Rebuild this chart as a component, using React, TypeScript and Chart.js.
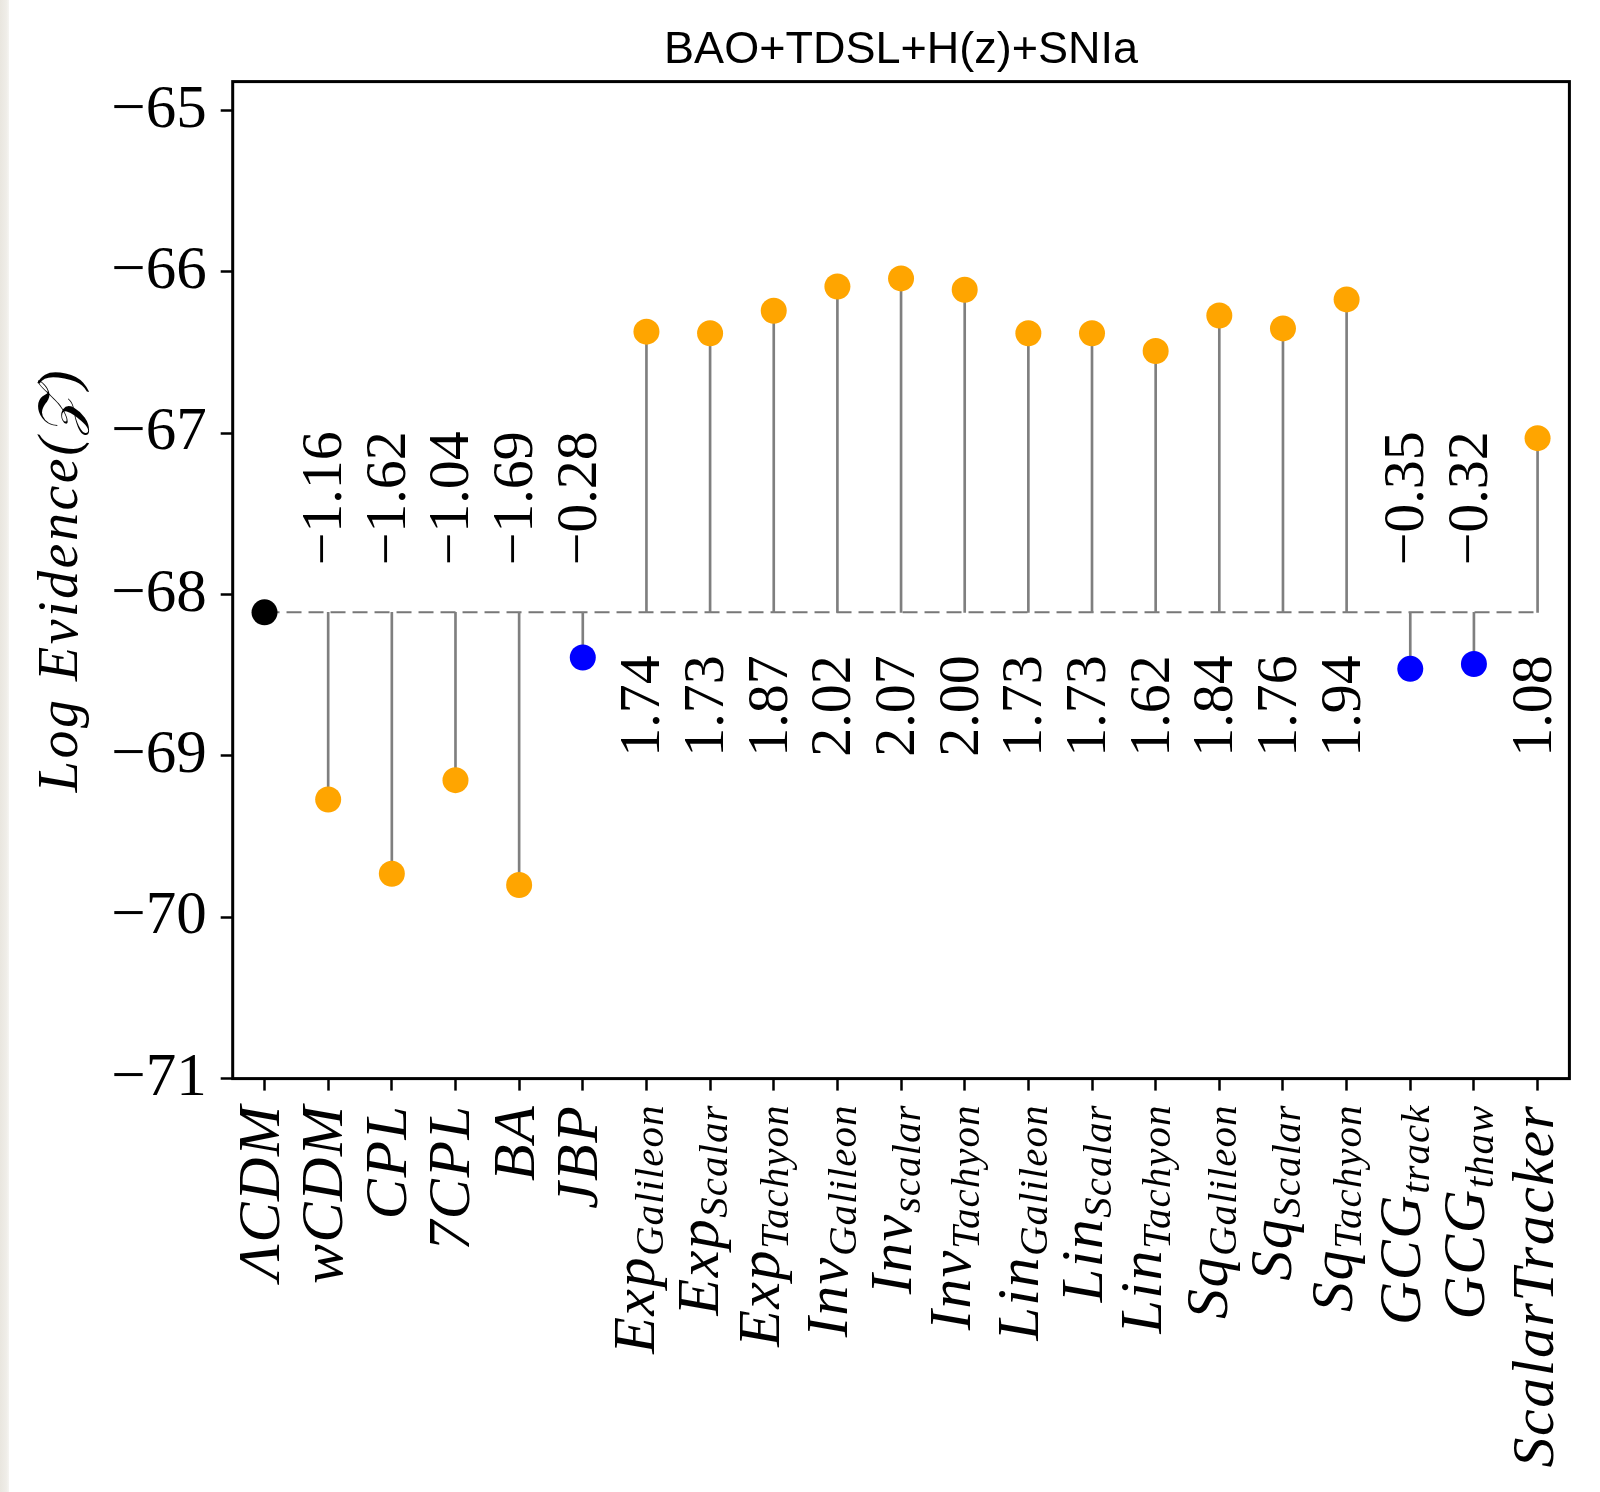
import { useEffect, useRef } from 'react';
import { Chart, registerables } from 'chart.js';

Chart.register(...registerables);

// Dark-energy models, main symbol and subscript
const modelNames = ['ΛCDM', 'wCDM', 'CPL', '7CPL', 'BA', 'JBP', 'Exp', 'Exp', 'Exp', 'Inv', 'Inv', 'Inv', 'Lin', 'Lin', 'Lin', 'Sq', 'Sq', 'Sq', 'GCG', 'GCG', 'ScalarTracker'];
const modelSubs = ['', '', '', '', '', '', 'Galileon', 'Scalar', 'Tachyon', 'Galileon', 'scalar', 'Tachyon', 'Galileon', 'Scalar', 'Tachyon', 'Galileon', 'Scalar', 'Tachyon', 'track', 'thaw', ''];
// Model family: reference model, parametrised / scalar-field models, JBP & GCG
const modelFamily = ['reference', 'de', 'de', 'de', 'de', 'alt', 'de', 'de', 'de', 'de', 'de', 'de', 'de', 'de', 'de', 'de', 'de', 'de', 'alt', 'alt', 'de'];

// ln Z of ΛCDM and Δ ln Z of every model relative to it
const lcdmLogEvidence = -68.11;
const deltaLogEvidence = [0, -1.16, -1.62, -1.04, -1.69, -0.28, 1.74, 1.73, 1.87, 2.02, 2.07, 2.0, 1.73, 1.73, 1.62, 1.84, 1.76, 1.94, -0.35, -0.32, 1.08];

const yTicks = [-71, -70, -69, -68, -67, -66, -65];
const yMin = -71;
const yMax = -64.82;

const chartTitle = 'BAO+TDSL+H(z)+SNIa';
const yTitle = 'Log Evidence(𝒵)';

const familyColor: Record<string, string> = { reference: '#000000', de: '#FFA500', alt: '#0000FF' };

const W = 1600;
const H = 1492;
const AREA = { left: 232.7, top: 81.6, right: 1569.4, bottom: 1078.6 };

const SERIF = '"Liberation Serif", "DejaVu Serif", serif';
const minus = (v: number, digits: number) => (v < 0 ? '\u2212' : '') + Math.abs(v).toFixed(digits);

const annotations = {
  id: 'stemAnnotations',
  afterDatasetsDraw(chart: any) {
    const { ctx, chartArea, scales } = chart;
    const xs = scales.x;
    const ys = scales.y;
    const baseY = ys.getPixelForValue(lcdmLogEvidence);

    // Δ ln Z labels next to the baseline
    ctx.save();
    ctx.fillStyle = '#000';
    ctx.font = `58px ${SERIF}`;
    ctx.textBaseline = 'alphabetic';
    deltaLogEvidence.forEach((d, i) => {
      if (i === 0) return;
      const bx = xs.getPixelForValue(i) + 13;
      ctx.save();
      if (d < 0) {
        ctx.translate(bx, baseY - 47);
        ctx.rotate(-Math.PI / 2);
        ctx.textAlign = 'left';
      } else {
        ctx.translate(bx, baseY + 43);
        ctx.rotate(-Math.PI / 2);
        ctx.textAlign = 'right';
      }
      ctx.fillText(minus(d, 2), 0, 0);
      ctx.restore();
    });
    ctx.restore();

    // axes frame
    ctx.save();
    ctx.strokeStyle = '#000';
    ctx.lineWidth = 3;
    ctx.strokeRect(chartArea.left, chartArea.top, chartArea.right - chartArea.left, chartArea.bottom - chartArea.top);
    ctx.restore();
  },
  afterDraw(chart: any) {
    const { ctx, chartArea, scales } = chart;
    const xs = scales.x;

    // title
    ctx.save();
    ctx.fillStyle = '#000';
    ctx.font = '45px "Liberation Sans", Arial, sans-serif';
    ctx.textAlign = 'center';
    ctx.textBaseline = 'alphabetic';
    ctx.fillText(chartTitle, (chartArea.left + chartArea.right) / 2, 63);
    ctx.restore();

    // y axis title
    ctx.save();
    ctx.fillStyle = '#000';
    ctx.font = `italic 56px ${SERIF}`;
    (ctx as any).letterSpacing = '2.5px';
    ctx.translate(76.5, (chartArea.top + chartArea.bottom) / 2);
    ctx.rotate(-Math.PI / 2);
    ctx.textAlign = 'center';
    ctx.textBaseline = 'alphabetic';
    ctx.fillText(yTitle, 0, 0);
    ctx.restore();

    // model names under the x axis, rotated, with subscripts
    const mainFont = `italic 60px ${SERIF}`;
    const subFont = `italic 41px ${SERIF}`;
    const mainSpacing = '1.5px';
    const subSpacing = '1px';
    const subShift = 9;
    const yTop = chartArea.bottom + 26;
    modelNames.forEach((name, i) => {
      const sub = modelSubs[i];
      const x = xs.getPixelForValue(i);
      ctx.save();
      ctx.fillStyle = '#000';
      ctx.textBaseline = 'alphabetic';
      ctx.textAlign = 'left';
      (ctx as any).letterSpacing = mainSpacing;
      ctx.font = mainFont;
      const mm = ctx.measureText(name);
      ctx.font = subFont;
      (ctx as any).letterSpacing = subSpacing;
      const sm = sub ? ctx.measureText(sub) : null;
      const wm = mm.width;
      const ws = sm ? sm.width : 0;
      const top = -mm.actualBoundingBoxAscent;
      const bottom = Math.max(mm.actualBoundingBoxDescent, sm ? subShift + sm.actualBoundingBoxDescent : -1e9);
      const bOff = -5 - (top + bottom) / 2;
      ctx.translate(x, yTop);
      ctx.rotate(-Math.PI / 2);
      ctx.font = mainFont;
      (ctx as any).letterSpacing = mainSpacing;
      ctx.fillText(name, -(wm + ws), bOff);
      if (sub) {
        ctx.font = subFont;
        (ctx as any).letterSpacing = subSpacing;
        ctx.fillText(sub, -ws, bOff + subShift);
      }
      ctx.restore();
    });
  },
};

export default function App() {
  const canvasRef = useRef<HTMLCanvasElement | null>(null);

  useEffect(() => {
    const canvas = canvasRef.current;
    if (!canvas) return;
    const logEvidence = deltaLogEvidence.map((d) => lcdmLogEvidence + d);
    const labels = modelNames.map((n, i) => n + modelSubs[i]);

    const chart = new Chart(canvas, {
      type: 'bar',
      data: {
        labels,
        datasets: [
          {
            type: 'line',
            label: 'markers',
            data: logEvidence,
            showLine: false,
            pointRadius: 13,
            pointHoverRadius: 13,
            pointBorderWidth: 0,
            pointBackgroundColor: modelFamily.map((f) => familyColor[f]),
            order: 0,
          } as any,
          {
            type: 'bar',
            label: 'stems',
            data: logEvidence.map((v) => [lcdmLogEvidence, v]),
            backgroundColor: '#7f7f7f',
            borderWidth: 0,
            barThickness: 2,
            order: 1,
          } as any,
          {
            type: 'line',
            label: 'baseline',
            data: logEvidence.map(() => lcdmLogEvidence),
            borderColor: '#777777',
            borderWidth: 2,
            borderDash: [15, 7],
            pointRadius: 0,
            fill: false,
            order: 2,
          } as any,
        ],
      },
      options: {
        animation: false,
        responsive: false,
        devicePixelRatio: 1,
        events: [],
        layout: { padding: { left: 0, top: AREA.top, right: W - AREA.right, bottom: 0 } },
        plugins: { legend: { display: false }, tooltip: { enabled: false }, title: { display: false } },
        scales: {
          x: {
            type: 'category',
            offset: true,
            grid: {
              display: true,
              drawOnChartArea: false,
              drawTicks: true,
              tickLength: 12,
              tickWidth: 2.5,
              tickColor: '#000',
              offset: false,
            },
            border: { display: false },
            ticks: { display: false, autoSkip: false },
            afterFit: (s: any) => {
              s.height = H - AREA.bottom;
            },
          },
          y: {
            type: 'linear',
            min: yMin,
            max: yMax,
            grid: {
              display: true,
              drawOnChartArea: false,
              drawTicks: true,
              tickLength: 12,
              tickWidth: 2.5,
              tickColor: '#000',
            },
            border: { display: false },
            afterBuildTicks: (s: any) => {
              s.ticks = yTicks.map((v) => ({ value: v }));
            },
            ticks: {
              color: '#000',
              padding: 14,
              font: { family: SERIF, size: 61 },
              callback: (v: any) => minus(Number(v), 0),
            },
            afterFit: (s: any) => {
              s.width = AREA.left;
            },
          },
        },
      },
      plugins: [annotations],
    });
    return () => chart.destroy();
  }, []);

  return (
    <div style={{ position: 'absolute', left: 0, top: 0, width: W, height: H, background: '#fff', overflow: 'hidden' }}>
      <canvas ref={canvasRef} width={W} height={H} style={{ display: 'block', width: W, height: H }} />
      <div
        style={{
          position: 'absolute',
          left: 0,
          top: 0,
          width: 9,
          height: H,
          background: 'linear-gradient(90deg, #e9e6df 0%, #efede8 70%, #f6f5f2 100%)',
        }}
      />
    </div>
  );
}
